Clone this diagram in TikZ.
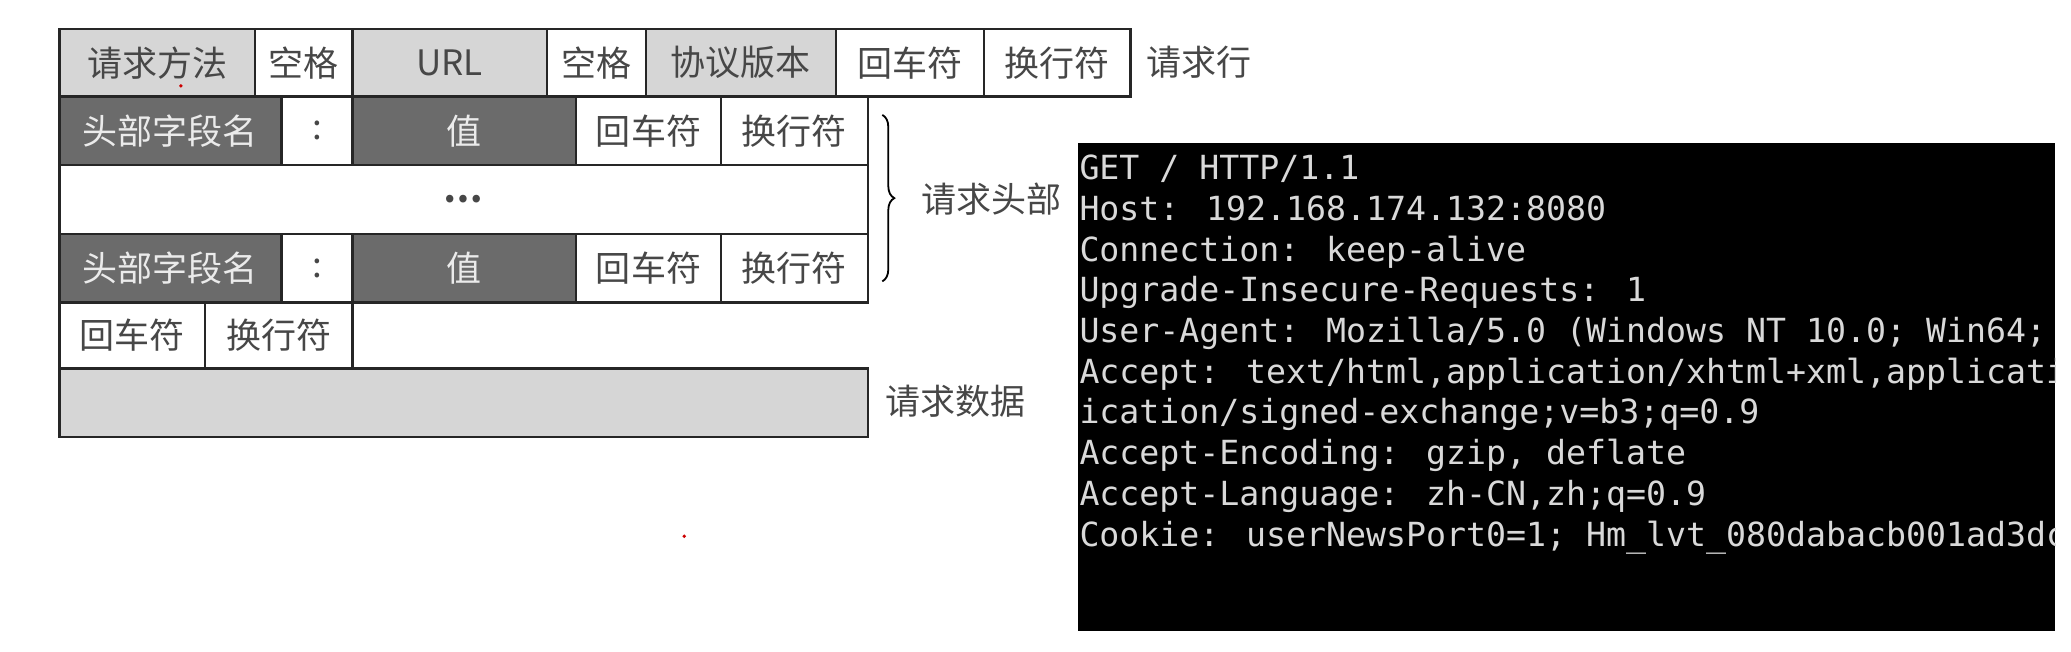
\documentclass[tikz,border=0pt]{standalone}
\usepackage{fontspec}
\newfontfamily\cjk{Noto Sans CJK SC}
\newfontfamily\mono{DejaVu Sans Mono}
\usetikzlibrary{decorations.pathreplacing}
\newcommand\cellbx[7]{\node[#1, minimum width={(#5-#3)*0.66pt}, minimum height={(#6-#4)*0.66pt}] (#2) at ({(#3+#5)/2},{(#4+#6)/2}) {#7};}
\begin{document}
\begin{tikzpicture}[x=0.66pt,y=-0.66pt,
  cell/.style={draw=black!85, line width=1.2pt, inner sep=0pt, font=\cjk\fontsize{17.5}{17.5}\selectfont, text=black!72},
  light/.style={cell, fill=black!16},
  dark/.style={cell, fill=black!58, text=white!92!black},
  plain/.style={cell, fill=white},
  lbl/.style={font=\cjk\fontsize{17.5}{17.5}\selectfont, text=black!72, inner sep=0pt},
  term/.style={font=\mono\fontsize{16.6}{16.6}\selectfont, text=white!85!black, anchor=base west, inner sep=0pt}]
\useasboundingbox (0,0) rectangle (1568,493);
% row 1: request line
\cellbx{light}{method}{45}{22}{193}{73}{请求方法}
\cellbx{plain}{sp1}{193}{22}{267}{73}{空格}
\cellbx{light}{url}{267}{22}{414}{73}{URL}
\cellbx{plain}{sp2}{414}{22}{489}{73}{空格}
\cellbx{light}{ver}{489}{22}{633}{73}{协议版本}
\cellbx{plain}{cr1}{633}{22}{745}{73}{回车符}
\cellbx{plain}{lf1}{745}{22}{856}{73}{换行符}
\node[lbl, anchor=west] (reqline) at (868,47) {请求行};
% row 2: header
\cellbx{dark}{hn1}{45}{73}{213}{125}{头部字段名}
\cellbx{plain}{co1}{213}{73}{267}{125}{:}
\cellbx{dark}{hv1}{267}{73}{436}{125}{值}
\cellbx{plain}{cr2}{436}{73}{546}{125}{回车符}
\cellbx{plain}{lf2}{546}{73}{657}{125}{换行符}
% row 3: dots
\cellbx{plain}{dots}{45}{125}{657}{177}{\textbf{…}}
% row 4: header
\cellbx{dark}{hn2}{45}{177}{213}{229}{头部字段名}
\cellbx{plain}{co2}{213}{177}{267}{229}{:}
\cellbx{dark}{hv2}{267}{177}{436}{229}{值}
\cellbx{plain}{cr3}{436}{177}{546}{229}{回车符}
\cellbx{plain}{lf3}{546}{177}{657}{229}{换行符}
% row 5: blank line
\cellbx{plain}{cr4}{45}{229}{155}{279}{回车符}
\cellbx{plain}{lf4}{155}{229}{267}{279}{换行符}
% row 6: data
\cellbx{light}{data}{45}{279}{657}{331}{}
\node[lbl, anchor=west] (reqdata) at (670,304) {请求数据};
% brace
\coordinate (bt) at (668,87);
\coordinate (bb) at (668,213);
\draw[line width=0.9pt, decorate, decoration={brace, amplitude=6pt}] (bt) -- (bb);
\node[lbl, anchor=west] (reqhead) at (697,151) {请求头部};
% red dots
\fill[red!80!black] (137,65) circle (1.4);
\fill[red!80!black] (518,406) circle (1.4);
% terminal
\node[fill=black, inner sep=0pt, minimum width={740*0.66pt}, minimum height={370*0.66pt}] (term) at (1186,293) {};
\begin{scope}
\clip (term.north west) rectangle (term.south east);
\node[term] (t1) at (817,136) {GET / HTTP/1.1};
\node[term] (t2) at (817,167) {Host: 192.168.174.132:8080};
\node[term] (t3) at (817,198) {Connection: keep-alive};
\node[term] (t4) at (817,228) {Upgrade-Insecure-Requests: 1};
\node[term] (t5) at (817,259) {User-Agent: Mozilla/5.0 (Windows NT 10.0; Win64;};
\node[term] (t6) at (817,290) {Accept: text/html,application/xhtml+xml,applicati};
\node[term] (t7) at (817,321) {ication/signed-exchange;v=b3;q=0.9};
\node[term] (t8) at (817,352) {Accept-Encoding: gzip, deflate};
\node[term] (t9) at (817,383) {Accept-Language: zh-CN,zh;q=0.9};
\node[term] (t10) at (817,414) {Cookie: userNewsPort0=1; Hm\_lvt\_080dabacb001ad3dc};
\end{scope}
\end{tikzpicture}
\end{document}
